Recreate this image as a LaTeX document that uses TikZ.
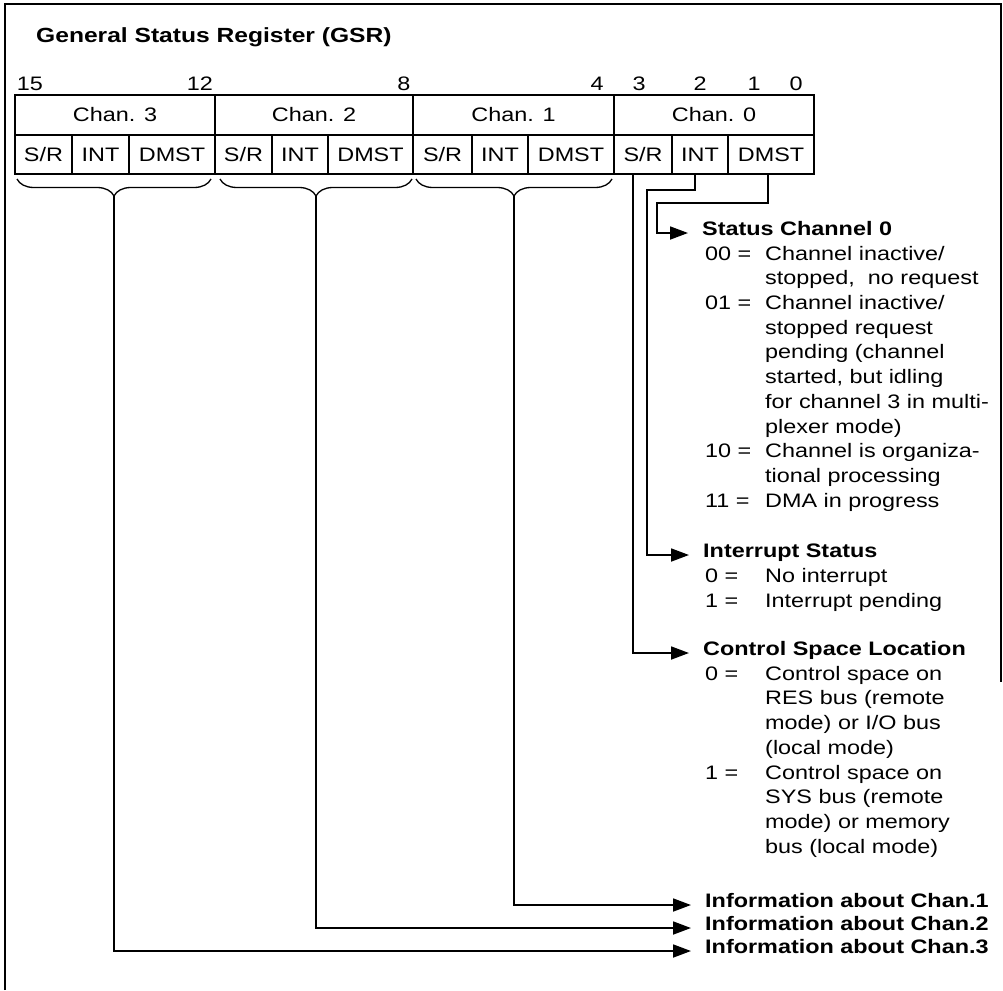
\documentclass[tikz,border=0pt]{standalone}
\usepackage{fontspec}
\setmainfont[FakeStretch=1.2]{Liberation Sans}
\usetikzlibrary{arrows.meta,decorations.pathreplacing}
\begin{document}
\begin{tikzpicture}[x=1pt,y=-1pt,
  txt/.style={font=\fontsize{19.5}{23}\selectfont, inner sep=0pt, anchor=mid west},
  hd/.style={txt, font=\fontsize{19.5}{23}\selectfont\bfseries},
  num/.style={font=\fontsize{19.5}{23}\selectfont, inner sep=0pt, anchor=base},
  cell/.style={draw, line width=1.3pt, anchor=north west, inner sep=0pt, outer sep=0pt, font=\fontsize{19.5}{23}\selectfont},
  conn/.style={line width=1.8pt},
  arr/.style={conn, -{Triangle[length=18pt,width=13pt]}, shorten >=14pt},
  brc/.style={line width=1.3pt, decorate, decoration={brace, amplitude=17pt, mirror}}]
\useasboundingbox (0,0) rectangle (1003,990);
\fill[white] (0,0) rectangle (1003,990);
% frame
\draw[line width=2pt] (5,990) -- (5,4) -- (1001,4) -- (1001,682);
% title
\node[font=\fontsize{20.5}{25}\selectfont\bfseries, inner sep=0pt, anchor=base west] (title) at (36,42) {General Status Register (GSR)};
% bit numbers
\node[num] (n15) at (30,90) {15};
\node[num, anchor=base east] (n12) at (213,90) {12};
\node[num] (n8) at (404,90) {8};
\node[num] (n4) at (597,90) {4};
\node[num] (n3) at (639,90) {3};
\node[num] (n2) at (700,90) {2};
\node[num] (n1) at (754,90) {1};
\node[num] (n0) at (796,90) {0};
% register row 1
\node[cell, minimum width=200pt, minimum height=40pt] (c3) at (15,95) {Chan. 3};
\node[cell, minimum width=198pt, minimum height=40pt] (c2) at (215,95) {Chan. 2};
\node[cell, minimum width=201pt, minimum height=40pt] (c1) at (413,95) {Chan. 1};
\node[cell, minimum width=200pt, minimum height=40pt] (c0) at (614,95) {Chan. 0};
% register row 2
\node[cell, minimum width=57pt, minimum height=39pt] (s3) at (15,135) {S/R};
\node[cell, minimum width=57pt, minimum height=39pt] (i3) at (72,135) {INT};
\node[cell, minimum width=86pt, minimum height=39pt] (d3) at (129,135) {DMST};
\node[cell, minimum width=57pt, minimum height=39pt] (s2) at (215,135) {S/R};
\node[cell, minimum width=56pt, minimum height=39pt] (i2) at (272,135) {INT};
\node[cell, minimum width=85pt, minimum height=39pt] (d2) at (328,135) {DMST};
\node[cell, minimum width=59pt, minimum height=39pt] (s1) at (413,135) {S/R};
\node[cell, minimum width=56pt, minimum height=39pt] (i1) at (472,135) {INT};
\node[cell, minimum width=86pt, minimum height=39pt] (d1) at (528,135) {DMST};
\node[cell, minimum width=58pt, minimum height=39pt] (s0) at (614,135) {S/R};
\node[cell, minimum width=56pt, minimum height=39pt] (i0) at (672,135) {INT};
\node[cell, minimum width=86pt, minimum height=39pt] (d0) at (728,135) {DMST};
% braces
\draw[brc] (17,179) -- (211,179);
\draw[brc] (220,179) -- (412,179);
\draw[brc] (416,179) -- (612,179);
\coordinate (b3) at (114,196);
\coordinate (b2) at (316,196);
\coordinate (b1) at (514,196);
% Status Channel 0
\node[hd] (sc0) at (702,233) {Status Channel 0};
\node[txt] (k1) at (705,258) {00 =};
\node[txt] (t1) at (765,258) {Channel inactive/};
\node[txt] (t2) at (765,282) {stopped, \ no request};
\node[txt] (k3) at (705,307) {01 =};
\node[txt] (t3) at (765,307) {Channel inactive/};
\node[txt] (t4) at (765,332) {stopped request};
\node[txt] (t5) at (765,356) {pending (channel};
\node[txt] (t6) at (765,381) {started, but idling};
\node[txt] (t7) at (765,406) {for channel 3 in multi-};
\node[txt] (t8) at (765,431) {plexer mode)};
\node[txt] (k9) at (705,455) {10 =};
\node[txt] (t9) at (765,455) {Channel is organiza-};
\node[txt] (t10) at (765,480) {tional processing};
\node[txt] (k11) at (705,505) {11 =};
\node[txt] (t11) at (765,505) {DMA in progress};
% Interrupt Status
\node[hd] (ist) at (703,555) {Interrupt Status};
\node[txt] (ik0) at (705,580) {0 =};
\node[txt] (it0) at (765,580) {No interrupt};
\node[txt] (ik1) at (705,605) {1 =};
\node[txt] (it1) at (765,605) {Interrupt pending};
% Control Space Location
\node[hd] (csl) at (703,653) {Control Space Location};
\node[txt] (ck0) at (705,678) {0 =};
\node[txt] (ct1) at (765,678) {Control space on};
\node[txt] (ct2) at (765,702) {RES bus (remote};
\node[txt] (ct3) at (765,727) {mode) or I/O bus};
\node[txt] (ct4) at (765,752) {(local mode)};
\node[txt] (ck1) at (705,777) {1 =};
\node[txt] (ct5) at (765,777) {Control space on};
\node[txt] (ct6) at (765,801) {SYS bus (remote};
\node[txt] (ct7) at (765,826) {mode) or memory};
\node[txt] (ct8) at (765,851) {bus (local mode)};
% information lines
\node[hd] (inf1) at (705,905) {Information about Chan.1};
\node[hd] (inf2) at (705,928) {Information about Chan.2};
\node[hd] (inf3) at (705,951) {Information about Chan.3};
% connectors
\draw[arr] ([xshift=-3pt]d0.south) -- ++(0,29) -- ++(-111,0) |- (sc0.mid west);
\draw[arr] ([xshift=-5pt]i0.south) -- ++(0,16) -- ++(-48,0) |- (ist.mid west);
\draw[arr] ([xshift=-10pt]s0.south) |- (csl.mid west);
\draw[arr] (b1) |- (inf1.mid west);
\draw[arr] (b2) |- (inf2.mid west);
\draw[arr] (b3) |- (inf3.mid west);
\end{tikzpicture}
\end{document}
